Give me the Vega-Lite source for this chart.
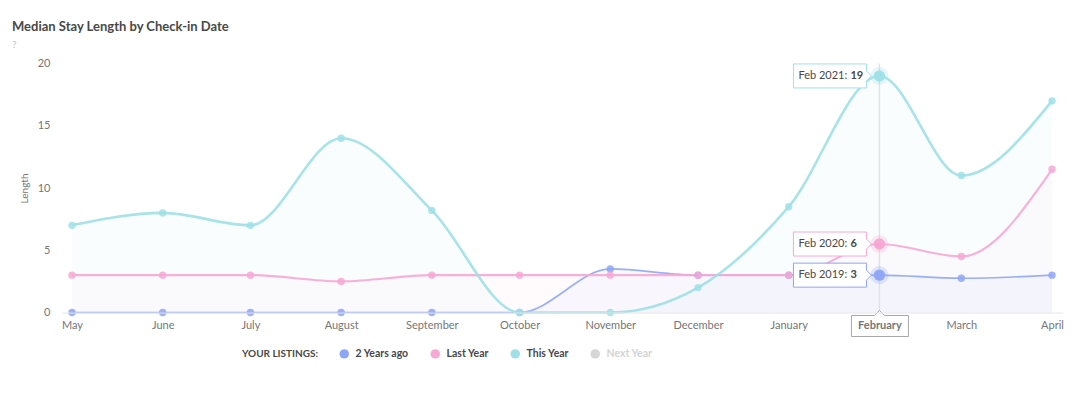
{
  "$schema": "https://vega.github.io/schema/vega-lite/v6.json",
  "width": 1001,
  "height": 249,
  "autosize": {"type": "none"},
  "padding": {"left": 62, "top": 63.5, "right": 26, "bottom": 80.5},
  "title": {
    "text": "Median Stay Length by Check-in Date",
    "subtitle": "?",
    "anchor": "start",
    "frame": "group",
    "dx": -50,
    "offset": 8,
    "fontSize": 13,
    "fontWeight": "bold",
    "color": "#484848",
    "font": "Lato",
    "subtitleFont": "Lato",
    "subtitleFontSize": 10,
    "subtitleColor": "#c4c4c4",
    "subtitlePadding": 6
  },
  "datasets": {
    "main": [
      {"date": "2020-05-01", "series": "2 Years ago", "value": 0},
      {"date": "2020-06-01", "series": "2 Years ago", "value": 0},
      {"date": "2020-07-01", "series": "2 Years ago", "value": 0},
      {"date": "2020-08-01", "series": "2 Years ago", "value": 0},
      {"date": "2020-09-01", "series": "2 Years ago", "value": 0},
      {"date": "2020-10-01", "series": "2 Years ago", "value": 0},
      {"date": "2020-11-01", "series": "2 Years ago", "value": 3.5},
      {"date": "2020-12-01", "series": "2 Years ago", "value": 3},
      {"date": "2021-01-01", "series": "2 Years ago", "value": 3},
      {"date": "2021-02-01", "series": "2 Years ago", "value": 3},
      {"date": "2021-03-01", "series": "2 Years ago", "value": 2.75},
      {"date": "2021-04-01", "series": "2 Years ago", "value": 3},
      {"date": "2020-05-01", "series": "Last Year", "value": 3},
      {"date": "2020-06-01", "series": "Last Year", "value": 3},
      {"date": "2020-07-01", "series": "Last Year", "value": 3},
      {"date": "2020-08-01", "series": "Last Year", "value": 2.5},
      {"date": "2020-09-01", "series": "Last Year", "value": 3},
      {"date": "2020-10-01", "series": "Last Year", "value": 3},
      {"date": "2020-11-01", "series": "Last Year", "value": 3},
      {"date": "2020-12-01", "series": "Last Year", "value": 3},
      {"date": "2021-01-01", "series": "Last Year", "value": 3},
      {"date": "2021-02-01", "series": "Last Year", "value": 5.5},
      {"date": "2021-03-01", "series": "Last Year", "value": 4.5},
      {"date": "2021-04-01", "series": "Last Year", "value": 11.5},
      {"date": "2020-05-01", "series": "This Year", "value": 7},
      {"date": "2020-06-01", "series": "This Year", "value": 8},
      {"date": "2020-07-01", "series": "This Year", "value": 7},
      {"date": "2020-08-01", "series": "This Year", "value": 14},
      {"date": "2020-09-01", "series": "This Year", "value": 8.2},
      {"date": "2020-10-01", "series": "This Year", "value": 0},
      {"date": "2020-11-01", "series": "This Year", "value": 0},
      {"date": "2020-12-01", "series": "This Year", "value": 2},
      {"date": "2021-01-01", "series": "This Year", "value": 8.5},
      {"date": "2021-02-01", "series": "This Year", "value": 19},
      {"date": "2021-03-01", "series": "This Year", "value": 11},
      {"date": "2021-04-01", "series": "This Year", "value": 17}
    ],
    "hl": [
      {"date": "2021-02-01", "series": "This Year", "value": 19, "prefix": "Feb 2021:", "num": "19"},
      {"date": "2021-02-01", "series": "Last Year", "value": 5.5, "prefix": "Feb 2020:", "num": "6"},
      {"date": "2021-02-01", "series": "2 Years ago", "value": 3, "prefix": "Feb 2019:", "num": "3"}
    ]
  },
  "encoding": {
    "x": {
      "field": "date",
      "type": "temporal",
      "scale": {"type": "utc", "nice": false,
        "domain": [{"year": 2020, "month": 4, "date": 27, "hours": 14, "utc": true}, {"year": 2021, "month": 4, "date": 4, "hours": 18, "utc": true}]},
      "axis": {
        "title": null,
        "labelExpr": "utcFormat(datum.value, '%B')",
        "values": [
          {"year": 2020, "month": 5, "date": 1, "utc": true},
          {"year": 2020, "month": 6, "date": 1, "utc": true},
          {"year": 2020, "month": 7, "date": 1, "utc": true},
          {"year": 2020, "month": 8, "date": 1, "utc": true},
          {"year": 2020, "month": 9, "date": 1, "utc": true},
          {"year": 2020, "month": 10, "date": 1, "utc": true},
          {"year": 2020, "month": 11, "date": 1, "utc": true},
          {"year": 2020, "month": 12, "date": 1, "utc": true},
          {"year": 2021, "month": 1, "date": 1, "utc": true},
          {"year": 2021, "month": 2, "date": 1, "utc": true},
          {"year": 2021, "month": 3, "date": 1, "utc": true},
          {"year": 2021, "month": 4, "date": 1, "utc": true}
        ],
        "labelAngle": 0,
        "labelOverlap": false,
        "labelFlush": false,
        "ticks": false,
        "labelPadding": 7,
        "labelFont": "Lato",
        "labelFontSize": 11,
        "labelColor": "#767676",
        "labelFontWeight": {"condition": {"test": "utcmonth(datum.value) === 1", "value": "bold"}, "value": "normal"},
        "domainColor": "#e6e6e6",
        "domainWidth": 1,
        "grid": false,
        "zindex": 1
      }
    }
  },
  "layer": [
    {
      "data": {"name": "main"},
      "mark": {"type": "area", "interpolate": "monotone", "fillOpacity": 0.05},
      "encoding": {
        "y": {"field": "value", "type": "quantitative", "stack": null,
          "scale": {"domain": [0, 20], "nice": false},
          "axis": {"title": "Length", "ticks": false, "domain": false, "grid": false, "tickCount": 5,
            "labelPadding": 12, "labelFont": "Lato", "labelFontSize": 11, "labelColor": "#767676",
            "titleFont": "Lato", "titleFontSize": 10, "titleFontWeight": "normal", "titleColor": "#767676", "titlePadding": 8}},
        "color": {"field": "series", "type": "nominal",
          "scale": {"domain": ["2 Years ago", "Last Year", "This Year", "Next Year"], "range": ["#8ea6f6", "#f6a8d4", "#9fe0e6", "#d6d6d6"]},
          "legend": {
            "title": "YOUR LISTINGS:",
            "orient": "none",
            "legendX": 180,
            "legendY": 285,
            "direction": "horizontal",
            "titleOrient": "left",
            "titleFont": "Lato",
            "titleFontSize": 10,
            "titleFontWeight": "bold",
            "titleColor": "#484848",
            "titlePadding": 20,
            "labelFont": "Lato",
            "labelFontSize": 10.5,
            "labelFontWeight": "bold",
            "labelColor": "#484848",
            "symbolType": "circle",
            "symbolSize": 90,
            "columnPadding": 21,
            "labelOffset": 6,
            "encode": {
              "symbols": {"update": {"fill": {"scale": "color", "field": "value"}, "strokeWidth": {"value": 0}, "opacity": {"value": 1}, "fillOpacity": {"value": 1}}},
              "labels": {"update": {"fill": {"signal": "datum.value === 'Next Year' ? '#d4d4d4' : '#484848'"}}}
            }
          }}
      }
    },
    {
      "data": {"name": "hl"},
      "transform": [{"filter": "datum.series === 'This Year'"}],
      "mark": {"type": "rule", "color": "#e3e3e3", "strokeWidth": 1.5},
      "encoding": {}
    },
    {
      "data": {"name": "main"},
      "mark": {"type": "line", "interpolate": "monotone", "opacity": 0.9},
      "encoding": {
        "y": {"field": "value", "type": "quantitative"},
        "color": {"field": "series", "type": "nominal"},
        "strokeWidth": {"field": "series", "type": "nominal", "legend": null,
          "scale": {"domain": ["2 Years ago", "Last Year", "This Year"], "range": [1.7, 2.6, 2]}}
      }
    },
    {
      "data": {"name": "main"},
      "mark": {"type": "point", "filled": true, "size": 55, "opacity": 0.85},
      "encoding": {
        "y": {"field": "value", "type": "quantitative"},
        "color": {"field": "series", "type": "nominal"}
      }
    },
    {
      "data": {"name": "hl"},
      "mark": {"type": "point", "filled": true, "size": 330, "opacity": 0.25},
      "encoding": {
        "y": {"field": "value", "type": "quantitative"},
        "color": {"field": "series", "type": "nominal"}
      }
    },
    {
      "data": {"name": "hl"},
      "mark": {"type": "point", "filled": true, "size": 130, "opacity": 0.95},
      "encoding": {
        "y": {"field": "value", "type": "quantitative"},
        "color": {"field": "series", "type": "nominal"}
      }
    },
    {
      "data": {"name": "hl"},
      "mark": {"type": "point", "filled": false, "fill": "white", "fillOpacity": 1, "opacity": 1, "strokeWidth": 1, "size": 40000,
        "shape": "M-0.86,-0.12L-0.13,-0.12L-0.13,-0.05L-0.08,0L-0.13,0.05L-0.13,0.12L-0.86,0.12Z"},
      "encoding": {
        "y": {"field": "value", "type": "quantitative"},
        "color": {"field": "series", "type": "nominal"}
      }
    },
    {
      "data": {"name": "hl"},
      "mark": {"type": "text", "align": "left", "baseline": "middle", "dx": -81, "font": "Lato", "fontSize": 11, "color": "#484848"},
      "encoding": {
        "y": {"field": "value", "type": "quantitative"},
        "text": {"field": "prefix"}
      }
    },
    {
      "data": {"name": "hl"},
      "mark": {"type": "text", "align": "left", "baseline": "middle", "dx": -29, "font": "Lato", "fontSize": 11, "fontWeight": "bold", "color": "#484848"},
      "encoding": {
        "y": {"field": "value", "type": "quantitative"},
        "text": {"field": "num"}
      }
    },
    {
      "data": {"name": "hl"},
      "transform": [{"filter": "datum.series === 'This Year'"}],
      "mark": {"type": "point", "filled": false, "fill": "white", "fillOpacity": 1, "stroke": "#a8a8a8", "opacity": 1, "strokeWidth": 1, "size": 40000,
        "shape": "M-0.28,0.03L-0.05,0.03L0,-0.02L0.05,0.03L0.29,0.03L0.29,0.24L-0.28,0.24Z"},
      "encoding": {
        "y": {"datum": 0, "type": "quantitative"}
      }
    }
  ],
  "config": {
    "view": {"stroke": null},
    "font": "Lato"
  }
}
